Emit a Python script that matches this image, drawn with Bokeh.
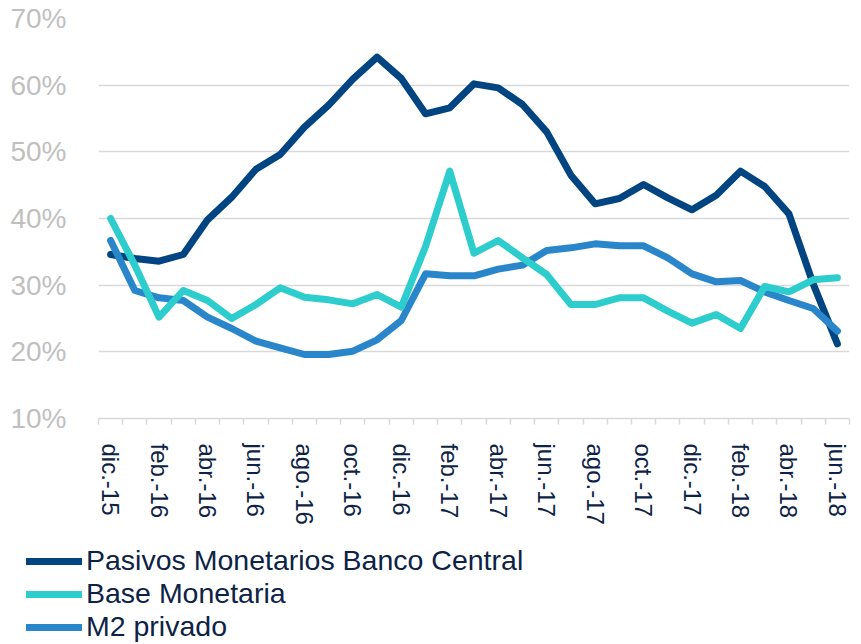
from bokeh.plotting import figure
from bokeh.layouts import column
from bokeh.models import (FixedTicker, PrintfTickFormatter, Legend, LegendItem, Range1d, ColumnDataSource)
from bokeh.embed import file_html
from bokeh.resources import INLINE

meses = ["dic.-15", "ene.-16", "feb.-16", "mar.-16", "abr.-16", "may.-16", "jun.-16", "jul.-16",
         "ago.-16", "sep.-16", "oct.-16", "nov.-16", "dic.-16", "ene.-17", "feb.-17", "mar.-17",
         "abr.-17", "may.-17", "jun.-17", "jul.-17", "ago.-17", "sep.-17", "oct.-17", "nov.-17",
         "dic.-17", "ene.-18", "feb.-18", "mar.-18", "abr.-18", "may.-18", "jun.-18"]

pasivos = [34.6, 34.0, 33.6, 34.6, 39.8, 43.2, 47.4, 49.6, 53.7, 57.0, 60.9, 64.2, 61.0, 55.7, 56.6, 60.2,
           59.6, 57.1, 53.0, 46.5, 42.2, 43.0, 45.1, 43.1, 41.3, 43.5, 47.1, 44.8, 40.7, 30.2, 21.2]
base = [40.0, 33.0, 25.2, 29.2, 27.7, 25.0, 27.1, 29.6, 28.2, 27.8, 27.2, 28.6, 26.7, 35.8, 47.1, 34.8,
        36.7, 34.1, 31.6, 27.1, 27.1, 28.1, 28.1, 26.1, 24.3, 25.6, 23.5, 29.8, 29.0, 30.8, 31.1]
m2 = [36.7, 29.2, 28.1, 27.7, 25.2, 23.5, 21.6, 20.6, 19.6, 19.6, 20.1, 21.8, 24.7, 31.7, 31.4, 31.4,
      32.4, 33.0, 35.2, 35.6, 36.2, 35.9, 35.9, 34.1, 31.7, 30.5, 30.7, 29.0, 27.7, 26.5, 23.1]

series_names = ["Pasivos Monetarios Banco Central", "Base Monetaria", "M2 privado"]
series_keys = ["pasivos", "base", "m2"]
colors = ["#004481", "#2DCCCD", "#2A86CA"]
y_ticks = [10, 20, 30, 40, 50, 60, 70]

FONT = "Liberation Sans"
LW = 7

x = list(range(len(meses)))
src = ColumnDataSource(data=dict(x=x, pasivos=pasivos, base=base, m2=m2))

p = figure(width=861, height=540, output_backend="svg", toolbar_location=None,
           x_range=Range1d(-0.5, len(meses) - 0.5), y_range=Range1d(10, 70),
           min_border_left=98, min_border_right=12, min_border_top=18, min_border_bottom=122)
p.frame_align = False
p.outline_line_color = None
p.background_fill_color = "white"
p.border_fill_color = "white"

# draw order: Pasivos bottom, M2, Base on top
for i in (0, 2, 1):
    p.line("x", series_keys[i], source=src, line_color=colors[i], line_width=LW,
           line_join="round", line_cap="round")

# x axis
xt = list(range(0, len(meses), 2))
p.xaxis.ticker = FixedTicker(ticks=xt, minor_ticks=[i - 0.5 for i in range(len(meses) + 1)])
p.xaxis.major_label_overrides = {i: meses[i] for i in xt}
p.xaxis.major_label_orientation = "vertical"
p.xaxis.major_tick_out = 0
p.xaxis.major_tick_in = 0
p.xaxis.minor_tick_out = 6
p.xaxis.minor_tick_in = 0
p.xaxis.minor_tick_line_color = "#D9D9D9"
p.xaxis.minor_tick_line_width = 1.5
p.xaxis.axis_line_color = "#D9D9D9"
p.xaxis.axis_line_width = 1.5
p.xaxis.major_label_text_font = FONT
p.xaxis.major_label_text_font_size = "24px"
p.xaxis.major_label_text_color = "#0D2346"
p.xaxis.major_label_standoff = 19

# y axis
p.yaxis.ticker = FixedTicker(ticks=y_ticks)
p.yaxis.formatter = PrintfTickFormatter(format="%d%%")
p.yaxis.axis_line_color = None
p.yaxis.major_tick_line_color = None
p.yaxis.minor_tick_line_color = None
p.yaxis.major_label_text_font = FONT
p.yaxis.major_label_text_font_size = "28px"
p.yaxis.major_label_text_color = "#BFBFBF"
p.yaxis.major_label_standoff = 26

p.xgrid.grid_line_color = None
p.ygrid.grid_line_color = "#D9D9D9"
p.ygrid.grid_line_width = 1.5

# legend panel (own figure below the chart); its lines use the same data, kept out of view
lg = figure(width=861, height=104, output_backend="svg", toolbar_location=None,
            x_axis_type=None, y_axis_type=None, x_range=Range1d(1000, 1001), y_range=Range1d(1000, 1001),
            min_border_left=0, min_border_right=0, min_border_top=0, min_border_bottom=0)
lg.frame_align = False
lg.outline_line_color = None
lg.xgrid.grid_line_color = None
lg.ygrid.grid_line_color = None
legend_renderers = [lg.line("x", k, source=src, line_color=c, line_width=LW, line_cap="round")
                    for k, c in zip(series_keys, colors)]

legend = Legend(items=[LegendItem(label=n, renderers=[r]) for n, r in zip(series_names, legend_renderers)],
                location=(26, 1), orientation="vertical")
legend.glyph_width = 56
legend.glyph_height = 32
legend.label_height = 32
legend.label_standoff = 4
legend.spacing = 0
legend.padding = 0
legend.margin = 0
legend.border_line_color = None
legend.background_fill_alpha = 0
legend.label_text_font = FONT
legend.label_text_font_size = "28.5px"
legend.label_text_color = "#0D2346"
legend.label_text_baseline = "middle"
lg.add_layout(legend, "center")

layout = column(p, lg, spacing=0)
open("out.html", "w").write(file_html(layout, INLINE))
